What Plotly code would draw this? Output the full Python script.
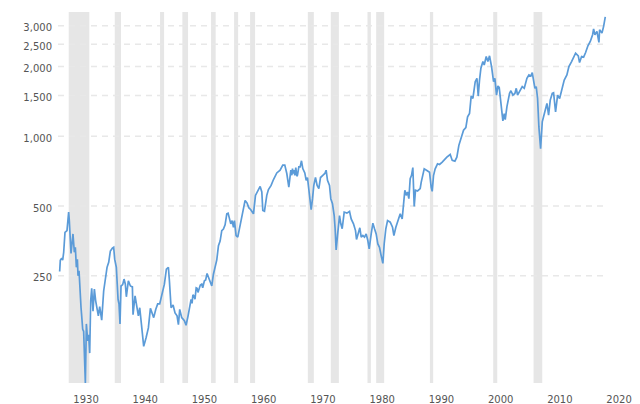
import plotly.graph_objects as go

# Values (year position, index level)
years_1 = [1925.55, 1925.66, 1925.89, 1926.06, 1926.23, 1926.45, 1926.79, 1926.96, 1927.07, 1927.18, 1927.3, 1927.47,
           1927.8, 1928.03, 1928.2, 1928.37, 1928.54, 1928.65, 1928.82, 1928.93, 1929.16, 1929.27, 1929.44, 1929.6,
           1929.89, 1930.06, 1930.28, 1930.45, 1930.62, 1930.79, 1930.96, 1931.18, 1931.41, 1931.63, 1931.86, 1932.08,
           1932.31, 1932.65, 1932.98, 1933.55, 1933.83, 1934.11, 1934.45, 1934.67, 1934.84, 1935.12, 1935.41, 1935.57,
           1935.74, 1935.91, 1936.19, 1936.42, 1936.64, 1936.81, 1937.15, 1937.49, 1937.83, 1937.94, 1938.28, 1938.61,
           1938.84, 1939.07, 1939.4, 1939.74, 1940.14, 1940.53, 1940.87, 1941.2, 1941.43, 1941.77, 1942.1, 1942.44,
           1942.89, 1943.23, 1943.57, 1943.91, 1944.08, 1944.36, 1944.7, 1945.03, 1945.37, 1945.6, 1945.82, 1946.16,
           1946.61, 1946.89, 1947.23, 1947.5, 1947.74, 1947.9, 1948.05, 1948.19, 1948.4, 1948.6, 1948.75, 1948.9,
           1949.09, 1949.3, 1949.54, 1949.7, 1949.99, 1950.2, 1950.44]
level_1 = [261, 292, 298, 292, 316, 385, 392, 433, 471, 433, 379, 312,
           379, 316, 332, 272, 295, 250, 263, 221, 182, 168, 147, 144,
           86, 155, 131, 139, 116, 195, 221, 176, 219, 195, 182, 168,
           184, 161, 215, 272, 286, 320, 329, 332, 295, 272, 198, 189,
           155, 226, 229, 242, 230, 203, 238, 226, 224, 170, 205, 182,
           168, 182, 149, 124, 135, 149, 181, 170, 165, 179, 189, 189,
           215, 230, 267, 272, 238, 182, 187, 173, 168, 154, 179, 165,
           160, 153, 168, 185, 198, 190, 207, 205, 198, 222, 221, 212,
           219, 228, 230, 222, 238, 240, 256]
years_2 = [1950.95, 1951.23, 1951.51, 1951.79, 1952.08, 1952.36, 1952.64, 1952.92, 1953.2, 1953.48, 1953.77, 1953.99,
           1954.22, 1954.44, 1954.67, 1954.89, 1955.06, 1955.34, 1955.62, 1955.9, 1956.24, 1956.58, 1956.86, 1957.2,
           1957.48, 1957.82, 1958.27, 1958.61, 1958.95, 1959.4, 1959.68, 1959.85, 1960.13, 1960.52, 1960.8, 1961.25,
           1961.65, 1962.21, 1962.77, 1963.22, 1963.56, 1963.9, 1964.24, 1964.46, 1964.58, 1964.75, 1964.86, 1964.97,
           1965.14, 1965.25, 1965.42, 1965.59, 1965.7,
           1965.93, 1966.15, 1966.38, 1966.6, 1966.94, 1967.17, 1967.39, 1967.62, 1967.84, 1968.01, 1968.24, 1968.46,
           1968.74, 1969.02, 1969.31, 1969.59, 1969.98, 1970.32, 1970.54, 1970.77, 1971.11, 1971.33, 1971.61, 1971.9,
           1972.06, 1972.23, 1972.46, 1972.8, 1973.02, 1973.25, 1973.59, 1974.04, 1974.49, 1974.77, 1975.16, 1975.5,
           1975.67, 1976.01, 1976.23, 1976.46, 1976.74, 1977.02, 1977.3, 1977.58, 1977.81, 1978.15, 1978.43, 1978.71,
           1978.99, 1979.27, 1979.55, 1979.84, 1980.12, 1980.34, 1980.62, 1980.91, 1981.36, 1981.75, 1981.98, 1982.31,
           1982.71, 1983.05, 1983.38, 1983.61, 1983.83, 1984.06, 1984.28, 1984.51, 1984.73, 1984.96, 1985.18, 1985.41,
           1985.63, 1985.97, 1986.42]
level_2 = [236, 226, 254, 277, 293, 337, 353, 392, 398, 415, 463, 466,
           433, 419, 433, 405, 433, 373, 367, 399, 455, 498, 529, 515,
           492, 482, 463, 556, 575, 608, 575, 479, 475, 556, 589, 614,
           651, 695, 714, 751, 751, 691, 604, 667, 714, 679, 726, 691,
           714, 679, 733, 673, 679,
           738, 738, 784, 726, 695, 646, 664, 595, 538, 482, 538, 614,
           664, 614, 595, 664, 679, 691, 714, 646, 614, 538, 512, 455,
           399, 323, 373, 455, 419, 399, 471, 466, 474, 440, 419, 392,
           359, 385, 403, 367, 373, 367, 379, 355, 327, 379, 422, 399,
           379, 343, 332, 305, 283, 343, 399, 433, 426, 405, 373, 405,
           440, 463, 440, 503, 585, 556, 575, 538, 657, 679, 733, 498,
           585, 581, 595]
years_3 = [1986.59, 1986.87, 1987.1, 1987.55, 1988.0, 1988.28, 1988.45, 1988.67, 1988.95, 1989.35, 1989.69, 1990.14,
           1990.47, 1990.92, 1991.49, 1991.83, 1992.28, 1992.61, 1992.95, 1993.4, 1993.74, 1994.13, 1994.42, 1994.75,
           1995.03, 1995.32, 1995.71, 1996.0, 1996.22, 1996.44, 1996.67, 1997.01, 1997.23, 1997.57, 1997.85, 1998.13,
           1998.47, 1998.81, 1999.03, 1999.31, 1999.54, 1999.76, 1999.99, 2000.21, 2000.38, 2000.61, 2000.78, 2001.06,
           2001.51, 2001.74, 2002.07, 2002.41, 2002.64, 2002.86, 2003.31, 2003.65, 2003.99, 2004.44, 2004.78, 2005.11,
           2005.34, 2005.56, 2005.79, 2006.01, 2006.24, 2006.46, 2006.75, 2007.03, 2007.37, 2007.82, 2008.1, 2008.38,
           2008.72, 2008.94, 2009.28, 2009.62, 2009.96, 2010.41, 2010.74, 2011.19, 2011.53, 2011.98, 2012.32, 2012.66,
           2013.11, 2013.33, 2013.67, 2014.01, 2014.35, 2014.74, 2015.14, 2015.53, 2015.7, 2015.92, 2016.26, 2016.6,
           2016.71, 2017.11, 2017.39, 2017.67]
level_3 = [633, 677, 724, 712, 700, 602, 579, 677, 724, 761, 756, 774,
           792, 813, 835, 787, 781, 813, 914, 1010, 1062, 1091, 1213, 1254,
           1492, 1457, 1721, 1780, 1492, 1750, 1967, 2103, 2033, 2210, 2103, 2225,
           2000, 1721, 1780, 1507, 1649, 1627, 1433, 1254, 1166, 1254, 1181, 1341,
           1532, 1573, 1507, 1532, 1611, 1507, 1594, 1638, 1611, 1780, 1840, 1822,
           1883, 1750, 1611, 1638, 1457, 1098, 884, 1154, 1254, 1386, 1234, 1433,
           1532, 1542, 1275, 1507, 1457, 1611, 1750, 1840, 2000, 2103, 2210, 2285,
           2225, 2081, 2210, 2196, 2301, 2459, 2568, 2745, 2905, 2745, 2838, 2542,
           2886, 2791, 2983, 3275]

recession_start = [1927.08, 1934.85, 1942.5, 1946.27, 1951.11, 1955.0, 1957.7, 1967.45, 1971.33, 1977.52, 1978.99,
                   1988.06, 1998.75, 2005.56]
recession_end = [1930.56, 1935.91, 1943.18, 1947.23, 1951.89, 1955.68, 1958.55, 1968.46, 1972.69, 1978.09, 1980.34,
                 1988.61, 1999.43, 2007.03]

y_ticks = [250, 500, 1000, 1500, 2000, 2500, 3000]
y_tick_labels = ['250', '500', '1,000', '1,500', '2,000', '2,500', '3,000']
x_ticks = [1930, 1940, 1950, 1960, 1970, 1980, 1990, 2000, 2010, 2020]

fig = go.Figure()

# Recession bands
for start, end in zip(recession_start, recession_end):
    fig.add_shape(type='rect', xref='x', yref='paper', x0=start, x1=end, y0=0, y1=1,
                  fillcolor='#e6e6e6', line_width=0, layer='below')

# Gridlines stop at the end of the data, not at the axis end
for tick in y_ticks:
    fig.add_shape(type='line', xref='x', yref='y', x0=1925.27, x1=2017.3, y0=tick, y1=tick,
                  line=dict(color='#e8e8e8', width=1.5, dash='6px,5px'), layer='below')

fig.add_trace(go.Scatter(
    x=years_1 + years_2 + years_3,
    y=level_1 + level_2 + level_3,
    mode='lines',
    line=dict(width=1.7, color='#5b9bd8'),
    showlegend=False
))

# the page body adds 8px around the plot, so the figure is 8px smaller than the window
fig.update_layout(
    width=632,
    height=396,
    margin=dict(l=50, r=15, t=3.5, b=21),
    paper_bgcolor='white',
    plot_bgcolor='white',
    font=dict(family='DejaVu Sans', size=10, color='#555555'),
    xaxis=dict(range=[1925.27, 2021], tickvals=x_ticks, showgrid=False, zeroline=False, showline=False, ticks='',
               ticklabelstandoff=9, automargin=False, fixedrange=True),
    yaxis=dict(type='log', range=[1.9353, 3.5366], tickvals=y_ticks, ticktext=y_tick_labels, showgrid=False,
               zeroline=False, showline=False, ticks='', ticklabelstandoff=5, ticklabelshift=2, automargin=False,
               fixedrange=True)
)

fig.write_html("out.html")
